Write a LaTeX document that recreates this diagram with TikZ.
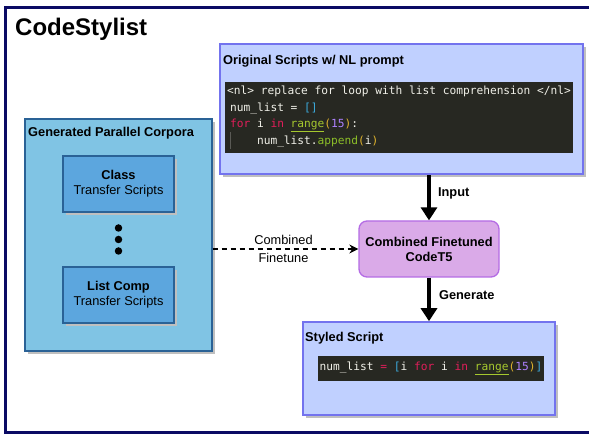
\documentclass[tikz,border=0pt]{standalone}
\usepackage{fontspec}
\setmainfont{Liberation Sans}
\newfontfamily\codefont{DejaVu Sans Mono}
\usetikzlibrary{arrows.meta,shadows}

\definecolor{rahmen}{RGB}{10,10,100}
\definecolor{skriptblau}{RGB}{192,208,255}
\definecolor{skriptrand}{RGB}{115,115,238}
\definecolor{korpusblau}{RGB}{128,196,228}
\definecolor{korpusrand}{RGB}{42,98,150}
\definecolor{innenblau}{RGB}{92,166,222}
\definecolor{modellfill}{RGB}{218,170,232}
\definecolor{modellrand}{RGB}{180,108,228}
\definecolor{codebg}{RGB}{39,40,34}
\definecolor{codetext}{RGB}{240,240,232}
\definecolor{kw}{RGB}{225,30,90}
\definecolor{klammer}{RGB}{60,170,220}
\definecolor{fn}{RGB}{166,200,46}
\definecolor{fnb}{RGB}{140,190,40}
\definecolor{par}{RGB}{225,180,45}
\definecolor{zahl}{RGB}{174,129,255}
\definecolor{guide}{RGB}{90,90,85}

\def\boxfont{\fontsize{12.8}{15}\selectfont}
\def\codesize{\fontsize{11.2}{16.7}\selectfont\codefont}

\begin{document}
\begin{tikzpicture}[x=1pt,y=1pt,>={Triangle[length=13pt,width=16pt]},
	schatten/.style={drop shadow={shadow xshift=3pt,shadow yshift=-3pt,fill=black!25,opacity=1}},
	skript/.style={draw=skriptrand,fill=skriptblau,line width=1.6pt,schatten},
	korpus/.style={draw=korpusrand,fill=korpusblau,line width=1.2pt,schatten},
	transfer/.style={draw=korpusrand,fill=innenblau,line width=1.2pt,minimum width=111pt,
		minimum height=56pt,align=center,font=\boxfont,schatten},
	modell/.style={draw=modellrand,fill=modellfill,line width=1.3pt,rounded corners=8pt,
		minimum width=140pt,minimum height=56pt,align=center,font=\boxfont\bfseries},
	code/.style={fill=codebg,text=codetext,font=\codesize,align=left,inner xsep=1pt,inner ysep=0pt},
	titel/.style={anchor=base west,inner sep=0pt,font=\boxfont\bfseries},
	punkt/.style={circle,fill=black,inner sep=0pt,minimum size=7.5pt},
	pfeil/.style={->,line width=3.5pt}]

\useasboundingbox (0,0) rectangle (589,435);

% Rahmen
\draw[rahmen,line width=3pt] (5.5,2) rectangle (620,427);
\node[anchor=base west,inner sep=0pt,font=\bfseries\fontsize{24}{28}\selectfont] (kopf) at (15,399) {CodeStylist};

% Original Scripts
\node[skript,minimum width=363pt,minimum height=130pt] (orig) at (401.5,326) {};
\node[titel] (origtitel) at (223,370) {Original Scripts w/ NL prompt};
\node[code,minimum width=348pt,minimum height=71pt] (code1) at (399,317.5) {<nl> replace for loop with list comprehension </nl>\\
	\hspace{3pt}num\_list = {\color{klammer}[]}\\
	\hspace{3pt}{\color{kw}for} i {\color{kw}in} {\color{fn}\underline{range}}{\color{par}(}{\color{zahl}15}{\color{par})}:\\
	\hspace{3pt}\rlap{\color{guide}\rule[-4.5pt]{0.6pt}{16.7pt}}\hphantom{xxxx}num\_list.{\color{fnb}append}{\color{par}(}i{\color{par})}};

% Corpora
\node[korpus,minimum width=187pt,minimum height=232pt] (korpus) at (118.5,200) {};
\node[titel] (korpustitel) at (28,298) {Generated Parallel Corpora};
\node[transfer] (class) at (118.5,251) {\textbf{Class}\\Transfer Scripts};
\node[transfer] (listcomp) at (118.5,140) {\textbf{List Comp}\\Transfer Scripts};
\foreach \y/\n in {207/p1,195.5/p2,184/p3}
	\node[punkt] (\n) at (118.5,\y) {};

% Modell
\node[modell] (modell) at (429,186) {Combined Finetuned\\CodeT5};

% Styled Script
\node[skript,minimum width=252pt,minimum height=93pt] (styled) at (429,66.5) {};
\node[titel] (styledtitel) at (305,93) {Styled Script};
\node[code,minimum width=226pt,minimum height=25pt] (code2) at (431,66.5) {num\_list {\color{kw}=} {\color{klammer}[}i {\color{kw}for} i {\color{kw}in} {\color{fn}\underline{range}}{\color{par}(}{\color{zahl}15}{\color{par})}{\color{klammer}]}};

% Pfeile
\draw[pfeil] (orig.south -| modell.north) -- (modell.north)
	node[midway,right=4pt,yshift=4pt,font=\boxfont\bfseries] (input) {Input};
\draw[pfeil] (modell.south) -- (styled.north)
	node[midway,right=5pt,yshift=4pt,font=\boxfont\bfseries] (generate) {Generate};
\draw[->,>={Stealth[length=9pt,width=9pt]},line width=1.2pt,dash pattern=on 5pt off 4pt]
	(korpus.east |- modell.west) -- (modell.west)
	node[midway,align=center,font=\boxfont,xshift=-2pt] (finetune) {Combined\\[3pt]Finetune};

\end{tikzpicture}
\end{document}
